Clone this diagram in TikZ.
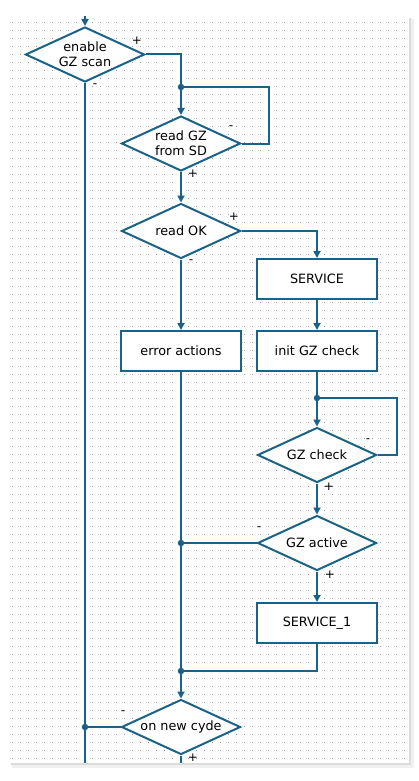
\documentclass[tikz,border=0pt]{standalone}
\usepackage{fontspec}
\setmainfont{DejaVu Sans}
\usetikzlibrary{arrows.meta,shapes.geometric}
\definecolor{gzFlowBlue}{RGB}{27,98,136}
\definecolor{gzGridGray}{RGB}{150,150,150}

\begin{document}
\begin{tikzpicture}[
                x=1pt, y=-1pt,
                font=\fontsize{12.8}{15}\selectfont,
                gzFlowLine/.style={draw=gzFlowBlue,line width=2pt},
                gzFlowArrow/.style={gzFlowLine,-{Triangle[length=7pt,width=7pt]}},
                gzFlowDecision/.style={diamond,draw=gzFlowBlue,line width=2pt,fill=white,
                                       aspect=2.2,inner sep=0pt,align=center,
                                       minimum width=119pt,minimum height=55pt},
                gzFlowStep/.style={rectangle,draw=gzFlowBlue,line width=2pt,fill=white,
                                   minimum width=120pt,minimum height=40pt},
                gzFlowDot/.style={circle,fill=gzFlowBlue,minimum size=6.5pt,inner sep=0pt},
                gzFlowSign/.style={font=\fontsize{12}{14}\selectfont,inner sep=0pt}]
                \useasboundingbox (0,0) rectangle (419,781);
                % sheet with shadow and dot grid
                \fill[black!6] (12,19) rectangle (414,768);
                \fill[black!14] (11,18) rectangle (411,765);
                \fill[white] (9,16) rectangle (409,763);
                \foreach \gy in {0,...,92}{
                    \draw[gzGridGray,line width=1pt,dash pattern=on 1pt off 7pt]
                        (12.2,22.5+8*\gy) -- (406,22.5+8*\gy);
                }
                % steps and decisions
                \node[gzFlowDecision] (enableScan) at (85,54.5) {enable\\GZ scan};
                \node[gzFlowDecision] (readSd) at (181,143.5) {read GZ\\from SD};
                \node[gzFlowDecision] (readOk) at (181,231) {read OK};
                \node[gzFlowStep] (service) at (317,279) {SERVICE};
                \node[gzFlowStep] (errorActions) at (181,351) {error actions};
                \node[gzFlowStep] (initCheck) at (317,351) {init GZ check};
                \node[gzFlowDecision] (gzCheck) at (317,455) {GZ check};
                \node[gzFlowDecision] (gzActive) at (317,543) {GZ active};
                \node[gzFlowStep] (serviceOne) at (317,623) {SERVICE\_1};
                \node[gzFlowDecision] (newCycle) at (181,727) {on new cyde};
                % junctions and loose ends
                \coordinate (topIn) at (85,16);
                \coordinate (leftOut) at (85,763);
                \coordinate (bottomOut) at (181,763);
                \coordinate (sdJoin) at (181,87);
                \coordinate (sdLoop) at (269,87);
                \coordinate (checkJoin) at (317,398);
                \coordinate (checkLoop) at (397,398);
                \coordinate (errJoin) at (181,543);
                \coordinate (mergeJoin) at (181,671);
                \coordinate (cycleJoin) at (85,727);
                % connectors
                \draw[gzFlowArrow] (topIn) -- (enableScan.north);
                \draw[gzFlowLine] (enableScan.east) -| (sdJoin);
                \draw[gzFlowLine] (enableScan.south) -- (leftOut);
                \draw[gzFlowArrow] (sdJoin) -- (readSd.north);
                \draw[gzFlowLine] (readSd.east) -| (sdLoop) -- (sdJoin);
                \draw[gzFlowArrow] (readSd.south) -- (readOk.north);
                \draw[gzFlowArrow] (readOk.east) -| (service.north);
                \draw[gzFlowArrow] (readOk.south) -- (errorActions.north);
                \draw[gzFlowArrow] (service.south) -- (initCheck.north);
                \draw[gzFlowLine] (initCheck.south) -- (checkJoin);
                \draw[gzFlowArrow] (checkJoin) -- (gzCheck.north);
                \draw[gzFlowLine] (gzCheck.east) -| (checkLoop) -- (checkJoin);
                \draw[gzFlowArrow] (gzCheck.south) -- (gzActive.north);
                \draw[gzFlowLine] (gzActive.west) -- (errJoin);
                \draw[gzFlowArrow] (gzActive.south) -- (serviceOne.north);
                \draw[gzFlowLine] (errorActions.south) -- (mergeJoin);
                \draw[gzFlowLine] (serviceOne.south) |- (mergeJoin);
                \draw[gzFlowArrow] (mergeJoin) -- (newCycle.north);
                \draw[gzFlowLine] (newCycle.west) -- (cycleJoin);
                \draw[gzFlowLine] (newCycle.south) -- (bottomOut);
                \foreach \j in {sdJoin,checkJoin,errJoin,mergeJoin,cycleJoin}{
                    \node[gzFlowDot] at (\j) {};
                }
                % branch signs
                \node[gzFlowSign] (enableYes) at (137,41) {+};
                \node[gzFlowSign] (enableNo) at (95,86) {-};
                \node[gzFlowSign] (readSdNo) at (231,128) {-};
                \node[gzFlowSign] (readSdYes) at (193,174) {+};
                \node[gzFlowSign] (readOkYes) at (234,217) {+};
                \node[gzFlowSign] (readOkNo) at (191,262) {-};
                \node[gzFlowSign] (gzCheckNo) at (368,441) {-};
                \node[gzFlowSign] (gzCheckYes) at (329,487) {+};
                \node[gzFlowSign] (gzActiveNo) at (259,529) {-};
                \node[gzFlowSign] (gzActiveYes) at (330,575) {+};
                \node[gzFlowSign] (newCycleNo) at (123,713) {-};
                \node[gzFlowSign] (newCycleYes) at (193,758) {+};
            \end{tikzpicture}
\end{document}
